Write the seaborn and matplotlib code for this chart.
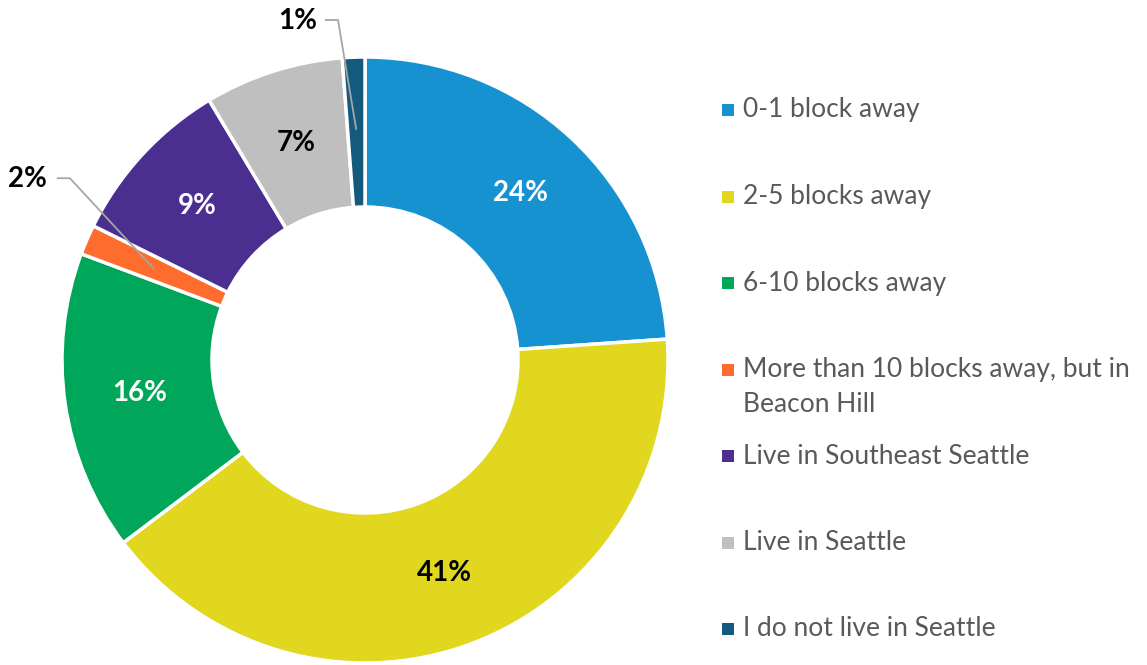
import numpy as np
import matplotlib
matplotlib.use("Agg")
import matplotlib.pyplot as plt
import seaborn as sns

categories = ["0-1 block away", "2-5 blocks away", "6-10 blocks away",
              "More than 10 blocks away, but in\nBeacon Hill",
              "Live in Southeast Seattle", "Live in Seattle",
              "I do not live in Seattle"]
shares = [23.9, 40.8, 16.0, 1.6, 9.1, 7.4, 1.2]
pct_labels = ["24%", "41%", "16%", "2%", "9%", "7%", "1%"]
colors = ["#1792D1", "#E0D71E", "#00A65A", "#FF6D2E", "#4A2F91", "#BFBFBF", "#135A7D"]
label_colors = ["white", "black", "white", "black", "white", "black", "black"]

sns.set_theme(style="white")
plt.rcParams["font.family"] = ["Lato", "DejaVu Sans"]

W, H = 1147, 665
fig = plt.figure(figsize=(W / 100, H / 100), dpi=100)

# donut axes: centre (365, 360) px, radius 303 px
cx, cy, R = 365, 360, 303
ax = fig.add_axes([(cx - R) / W, (H - cy - R) / H, 2 * R / W, 2 * R / H])
wedges, _ = ax.pie(shares, colors=colors, startangle=90, counterclock=False,
                   radius=1.0,
                   wedgeprops=dict(width=0.495, edgecolor="white", linewidth=2.5))
ax.set_xlim(-1, 1)
ax.set_ylim(-1, 1)
ax.axis("off")

def mid_point(w, r=0.752):
    ang = np.deg2rad((w.theta1 + w.theta2) / 2)
    return r * np.cos(ang), r * np.sin(ang)

# labels inside the ring for the bigger slices
for w, val, lab, tc in zip(wedges, shares, pct_labels, label_colors):
    if val < 5:
        continue
    x, y = mid_point(w)
    ax.text(x, y, lab, ha="center", va="center", color=tc,
            fontsize=20, fontweight="bold")

# small slices get a leader line
leaders = {3: ((-0.974, 0.600), (-1.017, 0.600), (-1.115, 0.597)),
           6: ((-0.089, 1.122), (-0.132, 1.122), (-0.221, 1.118))}
for i, (elbow, end, txt) in leaders.items():
    x, y = mid_point(wedges[i], 0.76)
    ax.plot([x, elbow[0], end[0]], [y, elbow[1], end[1]], color="#A6A6A6",
            lw=1.3, clip_on=False, solid_capstyle="butt")
    ax.text(txt[0], txt[1], pct_labels[i], ha="center", va="center",
            color="black", fontsize=20, fontweight="bold")

# legend drawn on an overlay in pixel coordinates
lax = fig.add_axes([0, 0, 1, 1], zorder=-1)
lax.set_xlim(0, W)
lax.set_ylim(H, 0)
lax.axis("off")
y0, step = 110, 86.5
for k, (lab, col) in enumerate(zip(categories, colors)):
    yk = y0 + k * step
    lax.scatter([727.5], [yk], marker="s", s=72, color=col, linewidths=0)
    for j, line in enumerate(lab.split("\n")):
        lax.text(743, yk + j * 35, line, ha="left", va="center",
                 color="#595959", fontsize=19)

fig.savefig("out.png", dpi=100)
